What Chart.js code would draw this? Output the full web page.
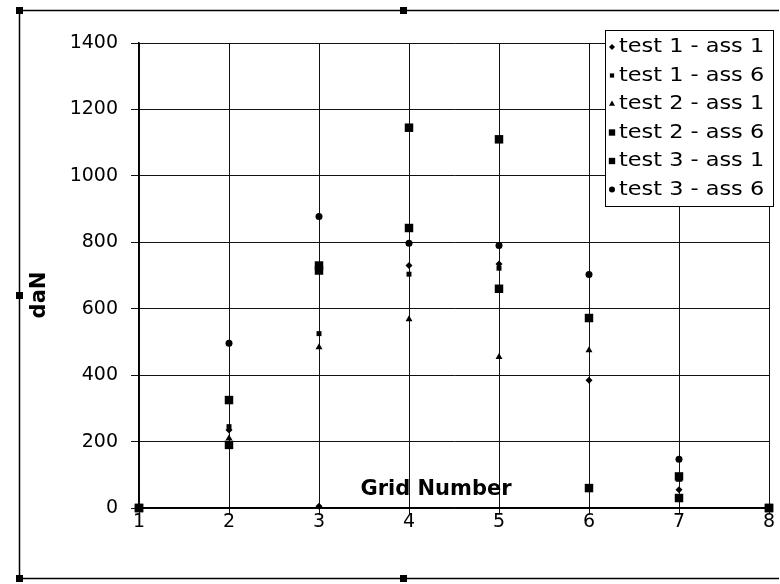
<!DOCTYPE html>
<html>
<head>
<meta charset="utf-8">
<script src="https://cdn.jsdelivr.net/npm/chart.js@4/dist/chart.umd.min.js"></script>
<style>
  html, body { margin: 0; padding: 0; background: #fff; }
  #wrap { width: 780px; height: 584px; }
</style>
</head>
<body>
<div id="wrap"><canvas id="grid-loads"></canvas></div>
<script>
const gridNumbers = [1, 2, 3, 4, 5, 6, 7, 8];
const yTicks = [0, 200, 400, 600, 800, 1000, 1200, 1400];

const test1Ass1 = [0, 235, 5, 730, 735, 385, 55, 0];
const test1Ass6 = [0, 245, 525, 704, 722, 575, 90, 0];
const test2Ass1 = [0, 210, 484, 568, 455, 475, 85, 0];
const test2Ass6 = [0, 325, 730, 843, 660, 572, 95, 0];
const test3Ass1 = [0, 190, 715, 1145, 1110, 60, 30, 0];
const test3Ass6 = [0, 496, 878, 797, 790, 703, 147, 0];

const seriesNames = ['test 1 - ass 1', 'test 1 - ass 6', 'test 2 - ass 1',
                     'test 2 - ass 6', 'test 3 - ass 1', 'test 3 - ass 6'];
const seriesValues = [test1Ass1, test1Ass6, test2Ass1, test2Ass6, test3Ass1, test3Ass6];
const markerStyles = ['rectRot', 'rect', 'triangle', 'rect', 'rect', 'circle'];
const markerSizes = [3.5, 3.5, 4, 6, 6, 3.5];
const legendSizes = [3, 3, 3.5, 4.5, 4.5, 3];

const FONT = '"DejaVu Sans", Arial, sans-serif';

// sheet frame with the selection handles, titles and the boxed legend
const decorations = {
    id: 'decorations',
    afterDraw(chart) {
        const ctx = chart.ctx;
        ctx.save();

        ctx.strokeStyle = '#000';
        ctx.lineWidth = 1.5;
        ctx.beginPath();
        ctx.moveTo(779, 10.5);
        ctx.lineTo(19.5, 10.5);
        ctx.lineTo(19.5, 578.5);
        ctx.lineTo(779, 578.5);
        ctx.stroke();
        ctx.fillStyle = '#000';
        [[19, 10], [403, 10], [19, 295], [19, 578], [403, 578]].forEach(([hx, hy]) => {
            ctx.fillRect(hx - 3, hy - 3, 7, 7);
        });

        ctx.textAlign = 'center';
        ctx.textBaseline = 'middle';
        ctx.font = 'bold 21px ' + FONT;
        ctx.fillText('Grid Number', 436, 490);
        ctx.translate(40, 295);
        ctx.rotate(-Math.PI / 2);
        ctx.fillText('daN', 0, 0);
        ctx.setTransform(1, 0, 0, 1, 0, 0);

        const bx = 605, by = 30, bw = 168, bh = 176;
        ctx.fillStyle = '#fff';
        ctx.fillRect(bx, by, bw, bh);
        ctx.lineWidth = 1;
        ctx.strokeRect(bx + 0.5, by + 0.5, bw, bh);
        ctx.font = '20px ' + FONT;
        ctx.textAlign = 'left';
        chart.data.datasets.forEach((ds, i) => {
            const rowY = by + 17 + i * 28.5;
            ctx.fillStyle = '#000';
            Chart.helpers.drawPoint(ctx, {
                pointStyle: markerStyles[i],
                radius: legendSizes[i],
                borderWidth: 0,
                rotation: 0
            }, bx + 7, rowY);
            // legend lettering runs wide
            ctx.save();
            ctx.translate(bx + 14, rowY);
            ctx.scale(1.12, 1);
            ctx.fillText(ds.label, 0, 0);
            ctx.restore();
        });
        ctx.restore();
    }
};

new Chart('grid-loads', {
    type: 'scatter',
    data: {
        datasets: seriesNames.map((name, i) => ({
            label: name,
            data: gridNumbers.map((g, j) => ({ x: g, y: seriesValues[i][j] })),
            pointStyle: markerStyles[i],
            pointRadius: markerSizes[i],
            pointHoverRadius: markerSizes[i],
            backgroundColor: '#000',
            borderColor: '#000',
            borderWidth: 0,
            clip: false
        }))
    },
    options: {
        responsive: true,
        maintainAspectRatio: false,
        animation: false,
        layout: { padding: { left: 0, top: 43, right: 11, bottom: 0 } },
        plugins: {
            legend: { display: false },
            tooltip: { enabled: false }
        },
        scales: {
            x: {
                type: 'linear',
                min: 1,
                max: 8,
                afterBuildTicks: scale => { scale.ticks = gridNumbers.map(v => ({ value: v })); },
                afterFit: scale => { scale.height = 76; },
                grid: { color: '#111', lineWidth: 1, tickLength: 6 },
                border: { color: '#000', width: 1.5 },
                ticks: { color: '#000', font: { family: FONT, size: 19 }, padding: -3 }
            },
            y: {
                min: 0,
                max: 1400,
                afterBuildTicks: scale => { scale.ticks = yTicks.map(v => ({ value: v })); },
                afterFit: scale => { scale.width = 139; },
                grid: { color: '#111', lineWidth: 1, tickLength: 8 },
                border: { color: '#000', width: 1.5 },
                ticks: {
                    color: '#000',
                    font: { family: FONT, size: 19 },
                    padding: 13,
                    callback: v => String(v)
                }
            }
        }
    },
    plugins: [decorations]
});
</script>
</body>
</html>
